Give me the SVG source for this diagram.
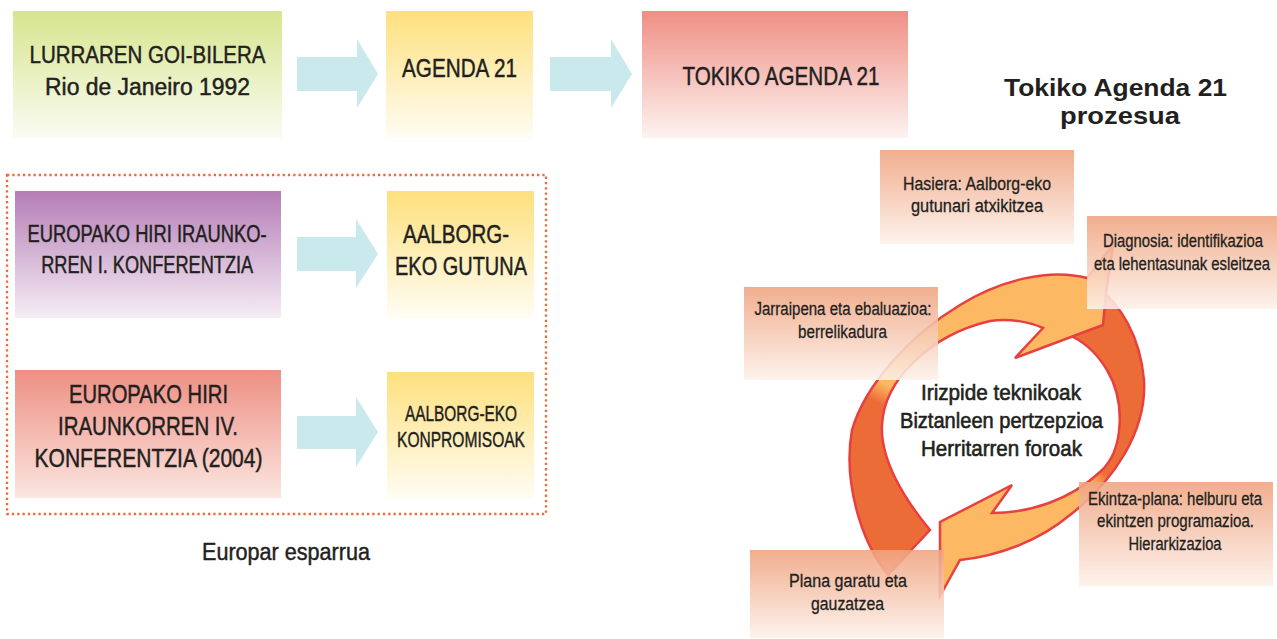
<svg xmlns="http://www.w3.org/2000/svg" width="1277" height="639" viewBox="0 0 1277 639">
<style>
.t{font-family:"Liberation Sans",Arial,sans-serif;fill:#231f20;text-anchor:middle;stroke:#231f20;stroke-width:0.45}
.big{font-size:23px}
.sm{font-size:18px;stroke-width:0.3}
.ctr{font-size:22px;stroke-width:0.6}
.ttl{font-size:24px;font-weight:bold;stroke-width:0}
.cy{fill:#c9e9ec}
.ring{stroke:#e8403f;stroke-width:2.5;stroke-linejoin:miter}
</style>
<defs>
<linearGradient id="gGreen" x1="0" y1="0" x2="0" y2="1"><stop offset="0" stop-color="#d7e58e"/><stop offset="1" stop-color="#fbfcf3"/></linearGradient>
<linearGradient id="gYellow" x1="0" y1="0" x2="0" y2="1"><stop offset="0" stop-color="#fee07d"/><stop offset="1" stop-color="#fffdf4"/></linearGradient>
<linearGradient id="gSalmon" x1="0" y1="0" x2="0" y2="1"><stop offset="0" stop-color="#ef8f84"/><stop offset="1" stop-color="#fdf3f0"/></linearGradient>
<linearGradient id="gPurple" x1="0" y1="0" x2="0" y2="1"><stop offset="0" stop-color="#b57db6"/><stop offset="1" stop-color="#f5edf5"/></linearGradient>
<linearGradient id="gRed" x1="0" y1="0" x2="0" y2="1"><stop offset="0" stop-color="#ee8f83"/><stop offset="1" stop-color="#fbe6e0"/></linearGradient>
<linearGradient id="gStep" x1="0" y1="0" x2="0" y2="1"><stop offset="0" stop-color="#efa37f"/><stop offset="1" stop-color="#fdf1ea"/></linearGradient>
<linearGradient id="gUp" gradientUnits="userSpaceOnUse" x1="870" y1="425" x2="900" y2="365"><stop offset="0" stop-color="#ec6c37"/><stop offset="0.35" stop-color="#ec6c37"/><stop offset="0.65" stop-color="#fdb863"/><stop offset="1" stop-color="#fdb863"/></linearGradient>
<linearGradient id="gLow" gradientUnits="userSpaceOnUse" x1="1125" y1="462" x2="1080" y2="505"><stop offset="0" stop-color="#ec6c37"/><stop offset="0.35" stop-color="#ec6c37"/><stop offset="0.65" stop-color="#fdb863"/><stop offset="1" stop-color="#fdb863"/></linearGradient>
</defs>
<rect width="1277" height="639" fill="#ffffff"/>

<g id="frame-europar">
<rect x="7" y="175" width="539" height="339" fill="none" stroke="#f26a36" stroke-width="2.3" stroke-dasharray="2.3 3"/>
<text class="t" x="286" y="560" font-size="23" stroke-width="0.3" textLength="168" lengthAdjust="spacingAndGlyphs">Europar esparrua</text>
</g>

<g id="connectors">
<polygon class="cy" points="297,57 357,57 357,39 378,74 357,108 357,91 297,91"/>
<polygon class="cy" points="550,57 611,57 611,39 632,74 611,108 611,91 550,91"/>
<polygon class="cy" points="297,237 356,237 356,219 378,254 356,288 356,271 297,271"/>
<polygon class="cy" points="297,416 356,416 356,397 378,432 356,467 356,449 297,449"/>
<path id="cycle-lower" class="ring" fill="url(#gLow)" d="M1073 337 L1098 287 C1120 305 1140 335 1144 380 C1147 430 1115 480 1070 515 C1040 540 1000 556 960 560 L940 596 L940 522 L1012 485 L992 513 C1030 513 1070 500 1100 472 C1125 450 1125 400 1107 370 C1098 355 1085 343 1073 337 Z"/>
<path id="cycle-upper" class="ring" fill="url(#gUp)" d="M888 575 L930 530 C905 500 880 460 882 425 C884 380 930 335 990 321 C1010 318 1030 322 1043 328 L1015 358 L1103 325 L1106 293 L1113 245 L1087 278 C1050 268 1000 280 960 305 C910 335 865 385 852 430 C843 480 860 540 888 575 Z"/>
</g>

<g id="lurraren">
<rect x="13" y="11" width="269" height="127" fill="url(#gGreen)"/>
<text class="t big" x="147.5" y="63" textLength="236" lengthAdjust="spacingAndGlyphs">LURRAREN GOI-BILERA</text>
<text class="t big" x="147.5" y="95" textLength="205" lengthAdjust="spacingAndGlyphs">Rio de Janeiro 1992</text>
</g>
<g id="agenda21">
<rect x="386" y="11" width="147" height="127" fill="url(#gYellow)"/>
<text class="t" x="459.5" y="77" font-size="25.5" textLength="115" lengthAdjust="spacingAndGlyphs">AGENDA 21</text>
</g>
<g id="tokiko">
<rect x="642" y="11" width="266" height="127" fill="url(#gSalmon)"/>
<text class="t" x="781" y="85" font-size="26" textLength="197" lengthAdjust="spacingAndGlyphs">TOKIKO AGENDA 21</text>
</g>
<g id="title">
<text class="t ttl" x="1115.5" y="96" textLength="223" lengthAdjust="spacingAndGlyphs">Tokiko Agenda 21</text>
<text class="t ttl" x="1120" y="124" textLength="120" lengthAdjust="spacingAndGlyphs">prozesua</text>
</g>
<g id="konferentzia1">
<rect x="15" y="191" width="266" height="127" fill="url(#gPurple)"/>
<text class="t big" x="147" y="242" textLength="239" lengthAdjust="spacingAndGlyphs">EUROPAKO HIRI IRAUNKO-</text>
<text class="t big" x="147.2" y="273" textLength="212" lengthAdjust="spacingAndGlyphs">RREN I. KONFERENTZIA</text>
</g>
<g id="gutuna">
<rect x="387" y="191" width="147" height="127" fill="url(#gYellow)"/>
<text class="t" x="456" y="243" font-size="25" textLength="106" lengthAdjust="spacingAndGlyphs">AALBORG-</text>
<text class="t" x="461" y="275" font-size="25" textLength="132" lengthAdjust="spacingAndGlyphs">EKO GUTUNA</text>
</g>
<g id="konferentzia4">
<rect x="15" y="370" width="266" height="128" fill="url(#gRed)"/>
<text class="t" x="148.5" y="403" font-size="25" textLength="159" lengthAdjust="spacingAndGlyphs">EUROPAKO HIRI</text>
<text class="t" x="148" y="435" font-size="25" textLength="180" lengthAdjust="spacingAndGlyphs">IRAUNKORREN IV.</text>
<text class="t" x="148.5" y="467" font-size="25" textLength="228" lengthAdjust="spacingAndGlyphs">KONFERENTZIA (2004)</text>
</g>
<g id="konpromisoak">
<rect x="387" y="372" width="147" height="127" fill="url(#gYellow)"/>
<text class="t" x="461" y="421" font-size="22" textLength="112" lengthAdjust="spacingAndGlyphs">AALBORG-EKO</text>
<text class="t" x="461" y="447" font-size="22" textLength="128" lengthAdjust="spacingAndGlyphs">KONPROMISOAK</text>
</g>

<g id="center">
<text class="t ctr" x="1001" y="400" textLength="160" lengthAdjust="spacingAndGlyphs">Irizpide teknikoak</text>
<text class="t ctr" x="1001.5" y="428" textLength="203" lengthAdjust="spacingAndGlyphs">Biztanleen pertzepzioa</text>
<text class="t ctr" x="1001.5" y="456" textLength="161" lengthAdjust="spacingAndGlyphs">Herritarren foroak</text>
</g>

<g id="hasiera">
<rect x="880" y="150" width="194" height="94" fill="url(#gStep)" opacity="0.88"/>
<text class="t sm" x="977" y="190" textLength="148" lengthAdjust="spacingAndGlyphs">Hasiera: Aalborg-eko</text>
<text class="t sm" x="977" y="212" textLength="132" lengthAdjust="spacingAndGlyphs">gutunari atxikitzea</text>
</g>
<g id="diagnosia">
<rect x="1087" y="216" width="190" height="93" fill="url(#gStep)" opacity="0.88"/>
<text class="t sm" x="1183" y="247" textLength="160" lengthAdjust="spacingAndGlyphs">Diagnosia: identifikazioa</text>
<text class="t sm" x="1182" y="270" textLength="176" lengthAdjust="spacingAndGlyphs">eta lehentasunak esleitzea</text>
</g>
<g id="jarraipena">
<rect x="744" y="287" width="194" height="93" fill="url(#gStep)" opacity="0.88"/>
<text class="t sm" x="843" y="315" textLength="177" lengthAdjust="spacingAndGlyphs">Jarraipena eta ebaluazioa:</text>
<text class="t sm" x="842.5" y="338" textLength="89" lengthAdjust="spacingAndGlyphs">berrelikadura</text>
</g>
<g id="ekintza">
<rect x="1079" y="482" width="194" height="104" fill="url(#gStep)" opacity="0.88"/>
<text class="t sm" x="1175" y="505" textLength="174" lengthAdjust="spacingAndGlyphs">Ekintza-plana: helburu eta</text>
<text class="t sm" x="1175.5" y="527" textLength="157" lengthAdjust="spacingAndGlyphs">ekintzen programazioa.</text>
<text class="t sm" x="1175" y="550" textLength="93" lengthAdjust="spacingAndGlyphs">Hierarkizazioa</text>
</g>
<g id="plana">
<rect x="750" y="550" width="194" height="88" fill="url(#gStep)" opacity="0.88"/>
<text class="t sm" x="848" y="587" textLength="118" lengthAdjust="spacingAndGlyphs">Plana garatu eta</text>
<text class="t sm" x="847.5" y="610" textLength="73" lengthAdjust="spacingAndGlyphs">gauzatzea</text>
</g>
</svg>
